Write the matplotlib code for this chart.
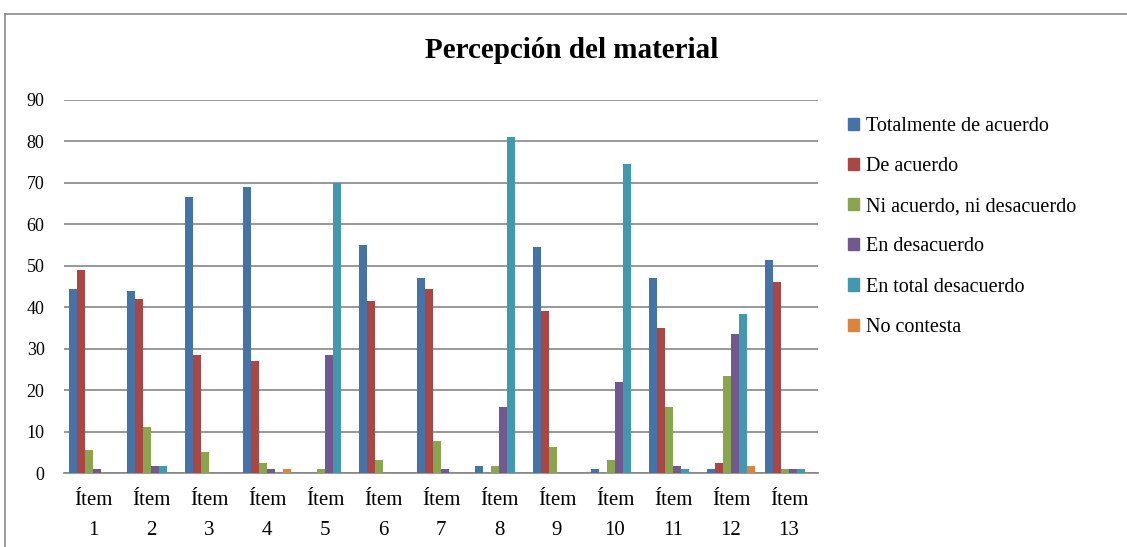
import matplotlib
matplotlib.use("Agg")
import matplotlib.pyplot as plt
import numpy as np
from matplotlib.lines import Line2D
from matplotlib.patches import Patch

categories = [f"Ítem\n{i}" for i in range(1, 14)]
series_names = ["Totalmente de acuerdo", "De acuerdo", "Ni acuerdo, ni desacuerdo",
                "En desacuerdo", "En total desacuerdo", "No contesta"]
totalmente = [44.5, 44, 66.5, 69, 0, 55, 47, 1.7, 54.5, 1, 47, 1, 51.5]
de_acuerdo = [49, 42, 28.5, 27, 0, 41.5, 44.5, 0, 39, 0, 35, 2.4, 46]
ni_ni = [5.5, 11, 5, 2.4, 1, 3.2, 7.8, 1.7, 6.3, 3.2, 16, 23.5, 1]
desacuerdo = [1, 1.7, 0, 1, 28.5, 0, 1, 16, 0, 22, 1.7, 33.5, 1]
total_desac = [0, 1.7, 0, 0, 70, 0, 0, 81, 0, 74.5, 1, 38.3, 1]
no_contesta = [0, 0, 0, 1, 0, 0, 0, 0, 0, 0, 0, 1.7, 0]
series = [totalmente, de_acuerdo, ni_ni, desacuerdo, total_desac, no_contesta]
colors = ["#4572A7", "#AA4643", "#89A54E", "#71588F", "#4198AF", "#DB843D"]
yticks = list(range(0, 91, 10))

plt.rcParams['font.family'] = ['Liberation Serif', 'DejaVu Serif']

W, H = 1127, 547
fig = plt.figure(figsize=(W / 100, H / 100), dpi=100)
# chart frame (top and left edges visible in the reference)
fig.add_artist(Line2D([4.5 / W, 1], [1 - 13.5 / H, 1 - 13.5 / H], transform=fig.transFigure,
                      color="#8a8a8a", lw=1.2))
fig.add_artist(Line2D([4.5 / W, 4.5 / W], [0, 1 - 13.5 / H], transform=fig.transFigure,
                      color="#8a8a8a", lw=1.2))
ax = fig.add_axes([64 / W, (H - 473) / H, (818 - 64) / W, (473 - 100) / H])

x = np.arange(len(categories))
bw = 0.14
for k, (vals, c) in enumerate(zip(series, colors)):
    ax.bar(x + (k - 2.5) * bw, vals, width=bw, color=c, label=series_names[k], zorder=3)

ax.set_xlim(-0.5, len(categories) - 0.5)
ax.set_ylim(0, 90)
ax.set_yticks(yticks)
ax.set_xticks(x)
ax.set_xticklabels(categories, fontsize=15, linespacing=1.75)
ax.tick_params(axis='y', length=0, pad=14, labelsize=13)
ax.tick_params(axis='x', length=0, pad=13)
ax.grid(axis='y', color="#868686", lw=1.2, zorder=0)
for s in ['left', 'right', 'top']:
    ax.spines[s].set_visible(False)
ax.spines['bottom'].set_color("#868686")
ax.spines['bottom'].set_linewidth(1.2)

fig.text(572 / W, 1 - 51 / H, "Percepción del material", ha='center', va='center',
         fontsize=21, fontweight='bold')

handles = [Patch(color=c) for c in colors]
fig.legend(handles, series_names, loc='upper left', bbox_to_anchor=(840 / W, 1 - 109 / H),
           frameon=False, fontsize=14.5, handlelength=0.55, handleheight=0.55,
           handletextpad=0.35, labelspacing=1.05, borderaxespad=0)

fig.savefig("out.png", dpi=100)
